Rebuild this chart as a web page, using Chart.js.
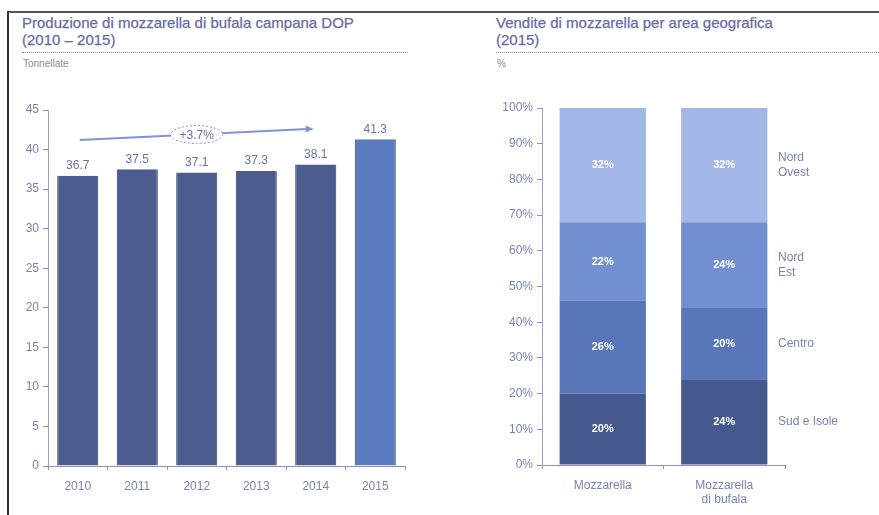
<!DOCTYPE html>
<html>
<head>
<meta charset="utf-8">
<script src="https://cdn.jsdelivr.net/npm/chart.js@4.4.1/dist/chart.umd.min.js"></script>
<style>
  html, body { margin: 0; padding: 0; background: #fff; }
  body { width: 879px; height: 515px; position: relative; overflow: hidden; font-family: "Liberation Sans", Arial, sans-serif; }
  .frame-top { position: absolute; left: 7px; top: 11px; width: 872px; height: 2px; background: #555; }
  .frame-left { position: absolute; left: 7px; top: 11px; width: 2px; height: 504px; background: #333; }
  .title { position: absolute; color: #666ba6; font-size: 15px; line-height: 17px; -webkit-text-stroke: 0.25px #666ba6; }
  .rule { position: absolute; height: 0; border-top: 1px dotted #8088c0; }
  .unit { position: absolute; color: #8a8a9a; font-size: 10px; }
  canvas { position: absolute; top: 0; }
</style>
</head>
<body>
<div class="frame-top"></div>
<div class="frame-left"></div>

<div class="title" style="left:22px; top:14px;">Produzione di mozzarella di bufala campana DOP<br>(2010 – 2015)</div>
<div class="rule" style="left:22px; top:52px; width:386px;"></div>
<div class="unit" style="left:23px; top:58px;">Tonnellate</div>

<div class="title" style="left:496px; top:14px;">Vendite di mozzarella per area geografica<br>(2015)</div>
<div class="rule" style="left:496px; top:52px; width:383px;"></div>
<div class="unit" style="left:497px; top:58px;">%</div>

<div style="position:absolute; left:0; top:0; width:440px; height:515px;"><canvas id="prod"></canvas></div>
<div style="position:absolute; left:440px; top:0; width:439px; height:515px;"><canvas id="sales"></canvas></div>

<script>
// Production of buffalo mozzarella (tonnes, thousands)
const years = ["2010", "2011", "2012", "2013", "2014", "2015"];
const production = [36.7, 37.5, 37.1, 37.3, 38.1, 41.3];
const prodTicks = [0, 5, 10, 15, 20, 25, 30, 35, 40, 45];
const growthLabel = "+3.7%";

// Sales split by geographic area (2015, %)
const products = [["Mozzarella"], ["Mozzarella", "di bufala"]];
const areas = ["Sud e Isole", "Centro", "Nord Est", "Nord Ovest"];
const areaLabels = [["Sud e Isole"], ["Centro"], ["Nord", "Est"], ["Nord", "Ovest"]];
const sudIsole = [20, 24];
const centro = [26, 20];
const nordEst = [22, 24];
const nordOvest = [32, 32];

const axisColor = "#7a82b8";
const tickFont = { family: "Liberation Sans, Arial, sans-serif", size: 12 };
const areaColors = ["#46598f", "#5a76bb", "#7290cf", "#a2b6e7"];

// Value labels above the production bars and the growth arrow
const prodDecor = {
  id: "prodDecor",
  afterDatasetsDraw(chart) {
    const { ctx, scales } = chart;
    const meta = chart.getDatasetMeta(0);
    ctx.save();
    ctx.fillStyle = "#6a70a8";
    ctx.font = "12px Liberation Sans, Arial, sans-serif";
    ctx.textAlign = "center";
    ctx.textBaseline = "bottom";
    meta.data.forEach((bar, i) => {
      ctx.fillText(production[i].toFixed(1), bar.x, bar.y - 4);
    });

    // growth arrow from 2010 to 2014
    const x0 = scales.x.getPixelForValue(0) + 2;
    const x1 = scales.x.getPixelForValue(4) - 2;
    const y0 = scales.y.getPixelForValue(41.2);
    const y1 = scales.y.getPixelForValue(42.6);
    const ex = scales.x.getPixelForValue(2);
    const ey = y0 + (y1 - y0) * (ex - x0) / (x1 - x0);
    ctx.strokeStyle = "#8593d2";
    ctx.fillStyle = "#8593d2";
    ctx.lineWidth = 2;
    ctx.beginPath();
    ctx.moveTo(x0, y0);
    ctx.lineTo(x1 - 6, y1);
    ctx.stroke();
    ctx.beginPath();
    ctx.moveTo(x1, y1);
    ctx.lineTo(x1 - 8, y1 - 3.5);
    ctx.lineTo(x1 - 8, y1 + 3.5);
    ctx.closePath();
    ctx.fill();
    // label bubble
    ctx.fillStyle = "#fff";
    ctx.beginPath();
    ctx.ellipse(ex, ey, 26, 9, 0, 0, Math.PI * 2);
    ctx.fill();
    ctx.setLineDash([2, 2]);
    ctx.lineWidth = 1;
    ctx.strokeStyle = "#8a8fb8";
    ctx.stroke();
    ctx.setLineDash([]);
    ctx.fillStyle = "#6a70a8";
    ctx.textBaseline = "middle";
    ctx.fillText(growthLabel, ex, ey + 1);
    ctx.restore();
  }
};

new Chart(document.getElementById("prod"), {
  type: "bar",
  data: {
    labels: years,
    datasets: [{
      data: production,
      backgroundColor: production.map((v, i) => i === production.length - 1 ? "#5a7bbf" : "#4c5c8f"),
      borderColor: "#2e3a60",
      borderWidth: { left: 1, right: 1, top: 0, bottom: 0 },
      barPercentage: 0.69,
      categoryPercentage: 1
    }]
  },
  options: {
    responsive: true,
    maintainAspectRatio: false,
    animation: false,
    layout: { padding: { top: 110, right: 35, bottom: 14, left: 0 } },
    plugins: { legend: { display: false }, tooltip: { enabled: false } },
    scales: {
      x: {
        grid: { display: true, drawOnChartArea: false, offset: true, tickLength: 4, color: "#8a90c0" },
        border: { color: "#8a90c0" },
        ticks: { color: axisColor, font: tickFont, padding: 9 },
        afterFit(s) { s.height = 35; }
      },
      y: {
        min: 0, max: 45,
        afterBuildTicks(s) { s.ticks = prodTicks.map(v => ({ value: v })); },
        grid: { display: true, drawOnChartArea: false, tickLength: 5, color: "#8a90c0" },
        border: { color: "#9aa0d0", dash: [1, 1] },
        ticks: { color: axisColor, font: tickFont, padding: 4 },
        afterFit(s) { s.width = 48; }
      }
    }
  },
  plugins: [prodDecor]
});

// Percent labels inside segments and area names on the right
const salesDecor = {
  id: "salesDecor",
  afterDatasetsDraw(chart) {
    const { ctx, scales } = chart;
    ctx.save();
    ctx.textAlign = "center";
    ctx.textBaseline = "middle";
    ctx.fillStyle = "#ffffff";
    ctx.font = "bold 11px Liberation Sans, Arial, sans-serif";
    chart.data.datasets.forEach((ds, di) => {
      const meta = chart.getDatasetMeta(di);
      meta.data.forEach((bar, i) => {
        const mid = (bar.y + bar.base) / 2;
        ctx.fillText(ds.data[i] + "%", bar.x, mid);
      });
    });
    // area names beside the right bar
    ctx.textAlign = "left";
    ctx.fillStyle = "#7a82b8";
    ctx.font = "12px Liberation Sans, Arial, sans-serif";
    const lastIdx = products.length - 1;
    let cum = 0;
    chart.data.datasets.forEach((ds, di) => {
      const v = ds.data[lastIdx];
      const midVal = cum + v / 2;
      cum += v;
      const lines = areaLabels[di];
      const y = scales.y.getPixelForValue(midVal);
      const x = scales.x.right - 7;
      lines.forEach((ln, k) => {
        ctx.fillText(ln, x, y + (k - (lines.length - 1) / 2) * 15);
      });
    });
    ctx.restore();
  }
};

const seriesValues = [sudIsole, centro, nordEst, nordOvest];

new Chart(document.getElementById("sales"), {
  type: "bar",
  data: {
    labels: products,
    datasets: areas.map((name, i) => ({
      label: name,
      data: seriesValues[i],
      backgroundColor: areaColors[i],
      borderColor: "#ffffff",
      borderWidth: { top: 0, bottom: i === 0 ? 0 : 1.5, left: 0, right: 0 },
      barPercentage: 0.71,
      categoryPercentage: 1
    }))
  },
  options: {
    responsive: true,
    maintainAspectRatio: false,
    animation: false,
    layout: { padding: { top: 108, right: 94, bottom: 0, left: 0 } },
    plugins: { legend: { display: false }, tooltip: { enabled: false } },
    scales: {
      x: {
        stacked: true,
        grid: { display: true, drawOnChartArea: false, offset: true, tickLength: 4, color: "#8a90c0" },
        border: { color: "#8a90c0" },
        ticks: { color: axisColor, font: tickFont, padding: 9 },
        afterFit(s) { s.height = 50; }
      },
      y: {
        stacked: true,
        min: 0, max: 100,
        grid: { display: true, drawOnChartArea: false, tickLength: 5, color: "#8a90c0" },
        border: { color: "#9aa0d0", dash: [1, 1] },
        ticks: { stepSize: 10, color: axisColor, font: tickFont, padding: 4, callback: v => v + "%" },
        afterFit(s) { s.width = 102; }
      }
    }
  },
  plugins: [salesDecor]
});
</script>
</body>
</html>
